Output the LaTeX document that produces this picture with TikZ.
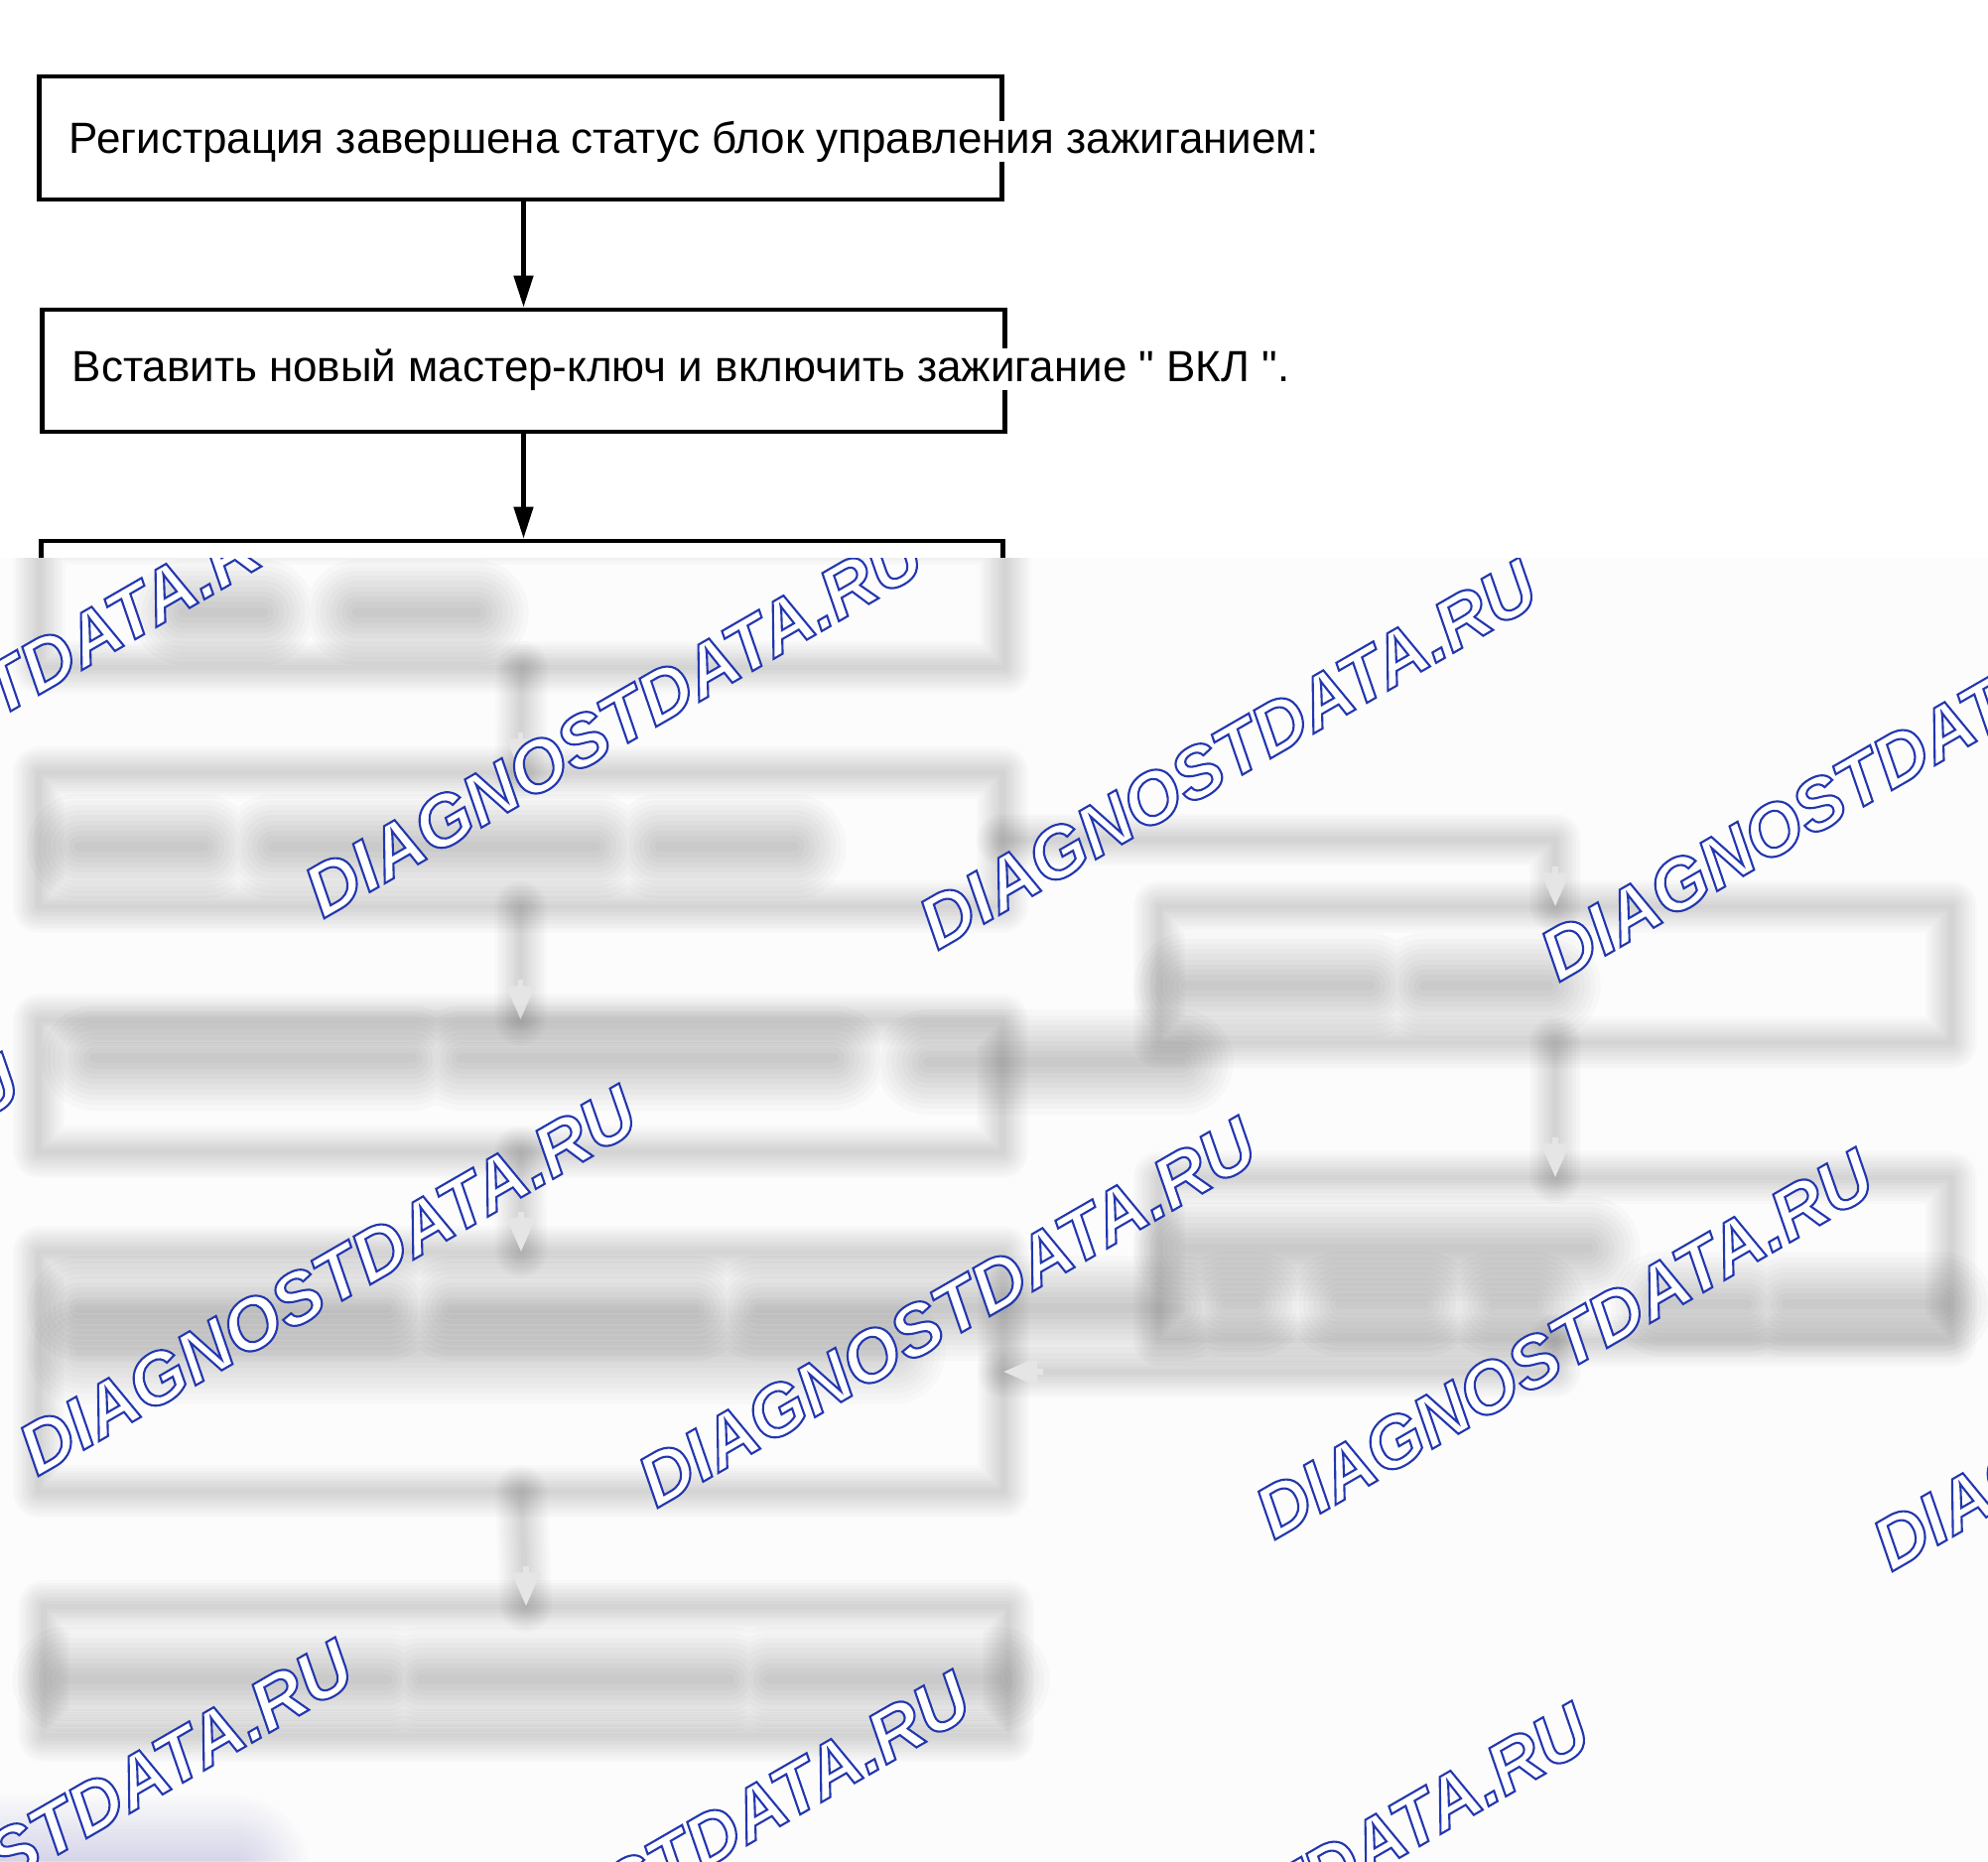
\documentclass[tikz,border=0pt]{standalone}
\usepackage{fontspec}
\setmainfont{Liberation Sans}[Ligatures=TeXOff]
\usetikzlibrary{arrows.meta}

\definecolor{wmblue}{RGB}{35,55,175}

\newcommand\outlined[1]{\special{pdf:literal direct 1 Tr 0.6 w}#1\special{pdf:literal direct 0 Tr}}
\newcommand\fuzz[4][black]{\foreach \w in {#3}{\draw[#1, draw opacity=#4, line width=\w pt, line cap=round, line join=round] #2;}}

\tikzset{
	stepbox/.style={draw, line width=1.3pt, minimum width=9.69cm, minimum height=1.24cm, inner sep=0pt},
	stepspace/.style={inner sep=0pt},
	steptext/.style={anchor=base west, fill=white, inner sep=0pt, font=\fontsize{12.5}{15}\selectfont},
	link/.style={line width=1.3pt, -{Triangle[length=3.2mm,width=1.9mm]}},
	hazetip/.style={draw=black!10, line width=1.5pt, -{Triangle[length=3.4mm,width=2.8mm]}},
	wmark/.style={rotate=30, inner sep=0pt, font=\fontsize{20.8}{25}\selectfont\bfseries\itshape}
}

\begin{document}
\begin{tikzpicture}[x=0.01cm, y=-0.01cm]
	\useasboundingbox (0,0) rectangle (2003,1875);
	\node[stepbox] (b1) at (524.5,139) {};
	\node[stepbox, minimum height=1.23cm] (b2) at (527.5,373.5) {};
	\node[stepbox, minimum height=1.25cm, minimum width=9.68cm] (b3) at (526,607.5) {};
	\node[steptext] (t1) at (69,154) {Регистрация завершена статус блок управления зажиганием:};
	\node[steptext] (t2) at (72,384) {Вставить новый мастер-ключ и включить зажигание " ВКЛ ".};
	\draw[link] (b2.north |- b1.south) -- (b2.north);
	\draw[link] (b2.south) -- (b2.south |- b3.north);

	\fill[white!99!black] (0,562) rectangle (2003,1875);
	\begin{scope}
		\clip (0,562) rectangle (2003,1875);
		\node[stepspace, minimum width=9.69cm, minimum height=1.34cm] (b4) at (524.5,846) {};
		\node[stepspace, minimum width=9.69cm, minimum height=1.32cm] (b5) at (524.5,1094) {};
		\node[stepspace, minimum width=7.96cm, minimum height=1.36cm] (r1) at (1567,982) {};
		\node[stepspace, minimum width=7.96cm, minimum height=1.63cm] (r2) at (1567,1268.5) {};
		\node[stepspace, minimum width=9.70cm, minimum height=2.40cm] (b6) at (525,1382) {};
		\node[stepspace, minimum width=9.70cm, minimum height=1.29cm] (b7) at (530,1683.5) {};
		\foreach \n in {b3,b4,b5,r1,r2,b6,b7}
		{
			\fuzz{(\n.north west) rectangle (\n.south east)}{1.5,3,...,15}{0.014}
		}
		\fuzz{(b3.south) -- (b4.north)}{1.5,3,...,15}{0.014}
		\fuzz{(b4.south) -- (b5.north)}{1.5,3,...,15}{0.014}
		\fuzz{(b5.south) -- (b6.north)}{1.5,3,...,15}{0.014}
		\fuzz{(b6.south) -- (b7.north)}{1.5,3,...,15}{0.014}
		\fuzz{(b4.east) -| (r1.north)}{1.5,3,...,15}{0.014}
		\fuzz{(r1.south) -- (r2.north)}{1.5,3,...,15}{0.014}
		\fuzz{(r2.south) |- (b6.east)}{1.5,3,...,15}{0.014}
		\draw[hazetip] ([yshift=0.4cm]b4.north) -- (b4.north);
		\draw[hazetip] ([yshift=0.4cm]b5.north) -- (b5.north);
		\draw[hazetip] ([yshift=0.4cm]b6.north) -- (b6.north);
		\draw[hazetip] ([yshift=0.4cm]b7.north) -- (b7.north);
		\draw[hazetip] ([yshift=0.4cm]r1.north) -- (r1.north);
		\draw[hazetip] ([yshift=0.4cm]r2.north) -- (r2.north);
		\draw[hazetip] ([xshift=0.4cm]b6.east) -- (b6.east);
		\fuzz{(185,617) -- (265,617) (360,617) -- (480,617)}{3,6,...,30}{0.018}
		\fuzz{(80,853) -- (205,853) (275,853) -- (600,853) (665,853) -- (800,853)}{3,6,...,30}{0.018}
		\fuzz{(95,1066) -- (415,1066) (465,1066) -- (840,1066) (935,1070) -- (1190,1070)}{3,6,...,30}{0.018}
		\fuzz{(1195,993) -- (1380,993) (1435,993) -- (1560,993)}{3,6,...,30}{0.018}
		\fuzz{(1195,1258) -- (1600,1258)}{3,6,...,30}{0.018}
		\fuzz{(80,1318) -- (390,1318) (455,1318) -- (700,1318) (765,1318) -- (1190,1318) (1235,1314) -- (1265,1314) (1350,1314) -- (1435,1314) (1505,1314) -- (1545,1314) (1675,1314) -- (1760,1314) (1800,1314) -- (1955,1314)}{3,6,...,30}{0.018}
		\fuzz{(80,1362) -- (900,1362)}{3,6,...,30}{0.014}
		\fuzz{(65,1692) -- (390,1692) (425,1692) -- (735,1692) (775,1692) -- (1005,1692)}{3,6,...,30}{0.018}
		\fuzz[wmblue]{(-40,1885) -- (235,1885)}{2,4,...,44}{0.006}
		\foreach \cx/\cy [count=\i] in {-4/696, 618/728, 1237/760, 1863/792, -292/1258, 330/1290, 954/1322, 1576/1354, 2198/1386, 44/1848, 666/1880, 1290/1912}
		{
			\node[wmark, text=white] (wm\i) at (\cx,\cy) {DIAGNOSTDATA.RU};
			\node[wmark, text=wmblue] (wo\i) at (\cx,\cy) {\outlined{DIAGNOSTDATA.RU}};
		}
	\end{scope}
\end{tikzpicture}
\end{document}
